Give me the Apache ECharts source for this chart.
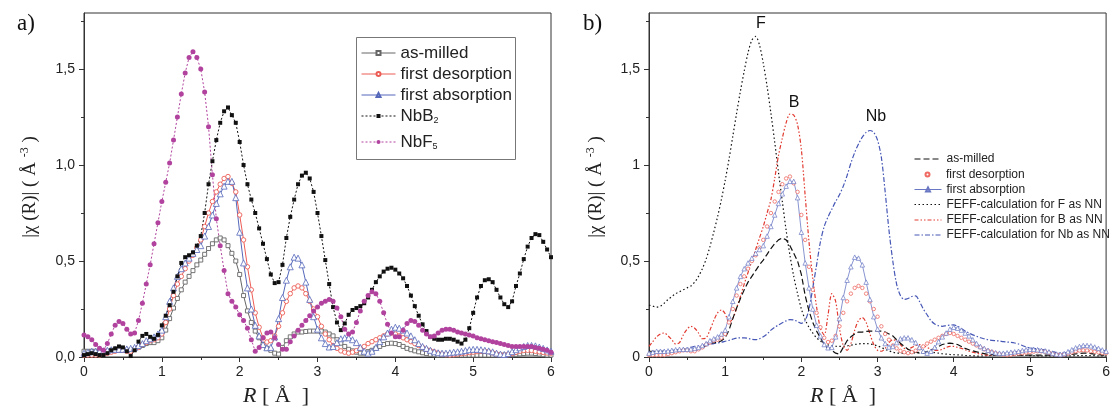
<!DOCTYPE html>
<html><head><meta charset="utf-8">
<script src="https://cdn.jsdelivr.net/npm/echarts@6/dist/echarts.min.js"></script>
<style>html,body{margin:0;padding:0;background:#fff}#c{width:1113px;height:410px}</style>
</head><body><div id="c"></div>
<script>
// sampling grid R (Å), step 0.05 from 0 to 6
const R = Array.from({length: 121}, (_, i) => +(i * 0.05).toFixed(2));
const xTickValues = [0, 1, 2, 3, 4, 5, 6];
const yMajorTicks = [0, 0.5, 1, 1.5];
const yMinorTicks = [0.25, 0.75, 1.25, 1.75];

const asMilled = [
0.03,0.03,0.03,0.03,0.03,0.03,0.03,0.035,0.035,0.04,
0.04,0.035,0.035,0.04,0.05,0.06,0.07,0.075,0.075,0.085,
0.10,0.14,0.20,0.255,0.305,0.35,0.39,0.42,0.45,0.48,
0.505,0.535,0.565,0.59,0.61,0.62,0.61,0.58,0.54,0.50,
0.43,0.32,0.24,0.18,0.135,0.10,0.065,0.045,0.035,0.02,
0.015,0.05,0.085,0.105,0.12,0.13,0.13,0.133,0.135,0.135,
0.135,0.135,0.13,0.12,0.11,0.09,0.072,0.055,0.04,0.032,
0.025,0.02,0.02,0.028,0.035,0.045,0.055,0.065,0.07,0.072,
0.07,0.065,0.055,0.045,0.038,0.032,0.027,0.022,0.018,0.014,
0.012,0.01,0.01,0.01,0.01,0.01,0.01,0.01,0.01,0.01,
0.01,0.01,0.01,0.01,0.01,0.01,0.01,0.01,0.01,0.01,
0.012,0.014,0.016,0.018,0.02,0.02,0.018,0.015,0.012,0.01,
0.01];
const firstDesorption = [
0.01,0.01,0.01,0.01,0.01,0.015,0.02,0.025,0.03,0.035,
0.035,0.03,0.03,0.04,0.05,0.065,0.075,0.085,0.09,0.10,
0.12,0.18,0.25,0.32,0.38,0.42,0.46,0.50,0.53,0.57,
0.61,0.68,0.75,0.81,0.86,0.90,0.93,0.94,0.905,0.86,
0.74,0.61,0.47,0.35,0.23,0.155,0.10,0.078,0.085,0.11,
0.16,0.23,0.29,0.33,0.36,0.37,0.36,0.33,0.29,0.25,
0.21,0.16,0.12,0.09,0.06,0.045,0.032,0.025,0.02,0.025,
0.033,0.045,0.055,0.07,0.08,0.09,0.10,0.11,0.12,0.125,
0.12,0.11,0.10,0.09,0.08,0.07,0.06,0.05,0.04,0.033,
0.027,0.02,0.015,0.012,0.01,0.012,0.015,0.018,0.02,0.023,
0.025,0.028,0.03,0.03,0.028,0.022,0.016,0.012,0.01,0.013,
0.018,0.024,0.03,0.034,0.035,0.034,0.03,0.027,0.024,0.021,
0.02];
const firstAbsorption = [
0.02,0.025,0.03,0.03,0.03,0.032,0.035,0.038,0.04,0.04,
0.04,0.042,0.045,0.05,0.06,0.07,0.085,0.095,0.105,0.12,
0.14,0.21,0.29,0.36,0.42,0.46,0.49,0.515,0.54,0.56,
0.58,0.63,0.68,0.74,0.80,0.85,0.89,0.915,0.915,0.83,
0.65,0.49,0.36,0.25,0.165,0.11,0.065,0.048,0.05,0.105,
0.20,0.31,0.40,0.47,0.52,0.515,0.48,0.39,0.30,0.21,
0.145,0.10,0.07,0.052,0.055,0.075,0.095,0.10,0.10,0.09,
0.075,0.05,0.03,0.02,0.03,0.05,0.08,0.105,0.125,0.145,
0.155,0.15,0.14,0.125,0.11,0.09,0.07,0.055,0.045,0.035,
0.027,0.022,0.02,0.02,0.022,0.025,0.027,0.03,0.034,0.038,
0.04,0.04,0.038,0.035,0.032,0.027,0.02,0.015,0.013,0.018,
0.028,0.038,0.048,0.055,0.06,0.06,0.058,0.052,0.045,0.037,
0.03];
const nbB2 = [
0.01,0.015,0.02,0.015,0.01,0.01,0.02,0.035,0.045,0.055,
0.05,0.03,0.005,0.035,0.08,0.11,0.12,0.105,0.095,0.115,
0.165,0.215,0.27,0.34,0.42,0.49,0.52,0.53,0.545,0.58,
0.63,0.75,0.90,1.02,1.13,1.22,1.28,1.30,1.26,1.22,
1.12,1.00,0.90,0.82,0.75,0.67,0.59,0.51,0.43,0.385,
0.39,0.48,0.62,0.73,0.82,0.90,0.945,0.96,0.93,0.86,
0.75,0.63,0.505,0.38,0.26,0.18,0.14,0.175,0.22,0.245,
0.255,0.265,0.28,0.31,0.35,0.39,0.42,0.445,0.46,0.465,
0.455,0.435,0.41,0.37,0.32,0.265,0.215,0.17,0.135,0.105,
0.095,0.09,0.09,0.095,0.095,0.09,0.08,0.07,0.09,0.15,
0.23,0.31,0.37,0.40,0.405,0.39,0.35,0.31,0.275,0.26,
0.29,0.37,0.435,0.51,0.575,0.62,0.64,0.635,0.60,0.56,
0.52];
const nbF5 = [
0.115,0.105,0.09,0.065,0.045,0.035,0.07,0.12,0.165,0.185,
0.175,0.145,0.12,0.125,0.19,0.28,0.38,0.48,0.59,0.70,
0.81,0.91,1.01,1.13,1.25,1.37,1.48,1.56,1.59,1.56,
1.50,1.38,1.20,0.95,0.72,0.58,0.45,0.33,0.29,0.26,
0.22,0.19,0.15,0.09,0.03,0.05,0.10,0.125,0.13,0.10,
0.065,0.04,0.04,0.08,0.11,0.14,0.165,0.19,0.215,0.24,
0.26,0.28,0.29,0.30,0.29,0.255,0.21,0.145,0.12,0.13,
0.18,0.24,0.29,0.32,0.34,0.33,0.29,0.23,0.17,0.125,
0.105,0.105,0.14,0.175,0.19,0.185,0.165,0.14,0.12,0.105,
0.11,0.125,0.14,0.145,0.145,0.14,0.13,0.125,0.12,0.115,
0.11,0.10,0.095,0.09,0.085,0.08,0.075,0.07,0.065,0.06,
0.055,0.055,0.055,0.055,0.055,0.055,0.05,0.045,0.04,0.035,
0.025];
const feffF = [
0.27,0.265,0.26,0.265,0.28,0.30,0.315,0.33,0.34,0.35,
0.36,0.37,0.39,0.42,0.46,0.51,0.575,0.65,0.73,0.82,
0.92,1.03,1.15,1.27,1.385,1.49,1.585,1.65,1.67,1.625,
1.53,1.41,1.27,1.12,0.96,0.81,0.66,0.53,0.42,0.33,
0.25,0.195,0.155,0.125,0.10,0.083,0.07,0.063,0.058,0.056,
0.055,0.056,0.058,0.062,0.065,0.068,0.07,0.07,0.068,0.064,
0.058,0.05,0.04,0.032,0.025,0.021,0.02,0.02,0.02,0.021,
0.022,0.024,0.025,0.025,0.025,0.023,0.02,0.017,0.015,0.013,
0.012,0.011,0.01,0.008,0.007,0.006,0.005,0.005,0.006,0.007,
0.008,0.009,0.01,0.01,0.01,0.01,0.009,0.009,0.008,0.008,
0.007,0.007,0.006,0.006,0.006,0.006,0.006,0.006,0.006,0.006,
0.006,0.006,0.007,0.007,0.007,0.007,0.007,0.007,0.006,0.006,
0.006];
const feffB = [
0.055,0.08,0.105,0.12,0.125,0.11,0.09,0.068,0.075,0.115,
0.145,0.16,0.15,0.125,0.095,0.10,0.14,0.19,0.23,0.245,
0.225,0.18,0.20,0.255,0.315,0.38,0.44,0.50,0.56,0.62,
0.68,0.75,0.82,0.93,1.05,1.14,1.22,1.265,1.26,1.21,
1.08,0.84,0.60,0.41,0.26,0.15,0.115,0.22,0.33,0.29,
0.15,0.06,0.035,0.07,0.14,0.19,0.205,0.18,0.12,0.065,
0.035,0.03,0.045,0.075,0.09,0.085,0.065,0.045,0.04,0.05,
0.06,0.065,0.06,0.05,0.04,0.035,0.035,0.04,0.05,0.055,
0.055,0.05,0.045,0.038,0.03,0.025,0.02,0.015,0.012,0.01,
0.01,0.012,0.015,0.018,0.02,0.022,0.025,0.028,0.03,0.032,
0.034,0.035,0.035,0.033,0.03,0.026,0.022,0.018,0.016,0.016,
0.018,0.022,0.026,0.03,0.032,0.032,0.03,0.027,0.024,0.022,
0.02];
const feffNb = [
0.02,0.022,0.025,0.028,0.03,0.032,0.033,0.035,0.037,0.04,
0.045,0.05,0.055,0.058,0.06,0.063,0.066,0.07,0.073,0.077,
0.082,0.087,0.093,0.098,0.10,0.10,0.097,0.092,0.09,0.095,
0.105,0.12,0.14,0.155,0.167,0.178,0.188,0.195,0.193,0.185,
0.175,0.19,0.25,0.36,0.48,0.60,0.68,0.73,0.77,0.81,
0.845,0.89,0.945,1.01,1.065,1.11,1.145,1.17,1.18,1.17,
1.13,1.04,0.86,0.66,0.50,0.38,0.32,0.30,0.305,0.315,
0.318,0.29,0.25,0.22,0.19,0.172,0.163,0.16,0.163,0.166,
0.167,0.16,0.148,0.135,0.125,0.115,0.108,0.10,0.095,0.09,
0.087,0.085,0.083,0.08,0.078,0.076,0.073,0.068,0.06,0.052,
0.047,0.045,0.043,0.04,0.037,0.033,0.028,0.023,0.02,0.02,
0.024,0.03,0.038,0.045,0.05,0.052,0.05,0.046,0.04,0.035,
0.03];

const pairs = ys => R.map((x, i) => [x, ys[i]]);
const FS = "'Liberation Sans', Arial, sans-serif";
const SERIF = "'Liberation Serif', 'Times New Roman', serif";
const YMAX = 1.792;
const AX = '#333';

const C_GRAY = '#666666', C_RED = '#ec5c55', C_BLUE = '#5567ba', C_BLK = '#111111', C_MAG = '#b1439f';
const C_FRED = '#e23a30', C_FBLUE = '#4657b6';

function xAxis(gi) {
  return {type: 'value', gridIndex: gi, min: 0, max: 6, interval: 1,
    axisLine: {show: true, onZero: false, lineStyle: {color: AX, width: 1}},
    axisTick: {show: true, length: 5, lineStyle: {color: AX}},
    minorTick: {show: true, splitNumber: 2, length: 3, lineStyle: {color: AX}},
    axisLabel: {fontFamily: FS, fontSize: 14, color: '#222', margin: 8,
      formatter: v => xTickValues.includes(v) ? String(v) : ''},
    splitLine: {show: false}};
}
function yMajor(gi, fmt) {
  return {type: 'value', gridIndex: gi, min: 0, max: YMAX,
    axisLine: {show: true, onZero: false, lineStyle: {color: AX, width: 1}},
    axisTick: {show: true, length: 5, customValues: yMajorTicks, lineStyle: {color: AX}},
    axisLabel: {customValues: yMajorTicks, fontFamily: FS, fontSize: 14, color: '#222', margin: 9, formatter: fmt},
    splitLine: {show: false}};
}
function yMinor(gi) {
  return {type: 'value', gridIndex: gi, min: 0, max: YMAX, position: 'left',
    axisLine: {show: false},
    axisTick: {show: true, length: 3, customValues: yMinorTicks, lineStyle: {color: AX}},
    axisLabel: {show: false}, splitLine: {show: false}};
}

const rich = {s: {fontSize: 9, fontFamily: FS, color: '#222', lineHeight: 9, padding: [9, 0, 0, 0]}};
function leg(name, left, cy, fontSize, lh, iw, ih, extra) {
  return Object.assign({
    show: true, data: [name], left: left, top: cy - lh / 2, orient: 'horizontal', padding: 0,
    itemWidth: iw, itemHeight: ih, itemGap: 0, selectedMode: false, z: 10,
    formatter: n => n.replace('NbB2', 'NbB{s|2}').replace('NbF5', 'NbF{s|5}'),
    textStyle: {fontFamily: FS, fontSize: fontSize, color: '#222', lineHeight: lh, rich: rich},
    lineStyle: {width: 1}
  }, extra || {});
}
const hideSym = {itemStyle: {opacity: 0}};

const option = {
  animation: false,
  backgroundColor: '#fff',
  grid: [
    {left: 84, top: 13, width: 467, height: 344, show: true, borderColor: AX, borderWidth: 1, backgroundColor: 'transparent'},
    {left: 649, top: 13, width: 466, height: 344, show: true, borderColor: AX, borderWidth: 1, backgroundColor: 'transparent'}
  ],
  xAxis: [xAxis(0), xAxis(1)],
  yAxis: [
    yMajor(0, v => v.toFixed(1).replace('.', ',')), yMinor(0),
    yMajor(1, v => String(v).replace('.', ',')), yMinor(1)
  ],
  legend: [
    leg('as-milled', 361, 53, 17, 18, 34, 5),
    leg('first desorption', 361, 74, 17, 18, 34, 5),
    leg('first absorption', 361, 95, 17, 18, 34, 5),
    leg('NbB2', 361, 116, 17, 18, 34, 5),
    leg('NbF5', 361, 142, 17, 18, 34, 5),
    leg('as-milled ', 914, 159, 12, 14, 27, 5, hideSym),
    leg('first desorption ', 914, 174.5, 12, 14, 27, 5, {lineStyle: {width: 0}}),
    leg('first absorption ', 914, 189.5, 12, 14, 27, 5),
    leg('FEFF-calculation for F as NN', 914, 204.5, 12, 14, 27, 5, hideSym),
    leg('FEFF-calculation for B as NN', 914, 220, 12, 14, 27, 5, hideSym),
    leg('FEFF-calculation for Nb as NN', 914, 235, 12, 14, 27, 5, hideSym)
  ],
  graphic: [
    {type: 'rect', z: 5, shape: {x: 356.5, y: 37.5, width: 159, height: 122},
      style: {fill: '#fff', stroke: '#777', lineWidth: 1}},
    {type: 'text', x: 17, y: 24, style: {text: 'a)', font: '23px ' + SERIF, fill: '#111', verticalAlign: 'middle', textVerticalAlign: 'middle'}},
    {type: 'text', x: 583, y: 24, style: {text: 'b)', font: '23px ' + SERIF, fill: '#111', verticalAlign: 'middle', textVerticalAlign: 'middle'}},
    {type: 'text', x: 30, y: 187, rotation: Math.PI / 2,
      style: {text: '|χ (R)| ( Å {sup|-3} )', font: '19px ' + SERIF, fill: '#222', align: 'center', textAlign: 'center', verticalAlign: 'middle', textVerticalAlign: 'middle',
        rich: {sup: {fontSize: 12, fontFamily: SERIF, fill: '#222', padding: [0, 0, 10, 0], lineHeight: 12}}}},
    {type: 'text', x: 596, y: 187, rotation: Math.PI / 2,
      style: {text: '|χ (R)| ( Å {sup|-3} )', font: '19px ' + SERIF, fill: '#222', align: 'center', textAlign: 'center', verticalAlign: 'middle', textVerticalAlign: 'middle',
        rich: {sup: {fontSize: 12, fontFamily: SERIF, fill: '#222', padding: [0, 0, 10, 0], lineHeight: 12}}}},
    {type: 'text', x: 243, y: 396, style: {text: '{i|R} [ Å  ]', font: '22px ' + SERIF, fill: '#222', verticalAlign: 'middle', textVerticalAlign: 'middle',
        rich: {i: {fontStyle: 'italic', fontSize: 22, fontFamily: SERIF, fill: '#222'}}}},
    {type: 'text', x: 810, y: 396, style: {text: '{i|R} [ Å  ]', font: '22px ' + SERIF, fill: '#222', verticalAlign: 'middle', textVerticalAlign: 'middle',
        rich: {i: {fontStyle: 'italic', fontSize: 22, fontFamily: SERIF, fill: '#222'}}}},
    {type: 'text', x: 761, y: 24, style: {text: 'F', font: '16px ' + FS, fill: '#111', align: 'center', textAlign: 'center', verticalAlign: 'middle', textVerticalAlign: 'middle'}},
    {type: 'text', x: 794, y: 103, style: {text: 'B', font: '16px ' + FS, fill: '#111', align: 'center', textAlign: 'center', verticalAlign: 'middle', textVerticalAlign: 'middle'}},
    {type: 'text', x: 876, y: 117, style: {text: 'Nb', font: '16px ' + FS, fill: '#111', align: 'center', textAlign: 'center', verticalAlign: 'middle', textVerticalAlign: 'middle'}}
  ],
  series: [
    {name: 'as-milled', type: 'line', xAxisIndex: 0, yAxisIndex: 0, data: pairs(asMilled),
      symbol: 'rect', symbolSize: 4, itemStyle: {color: '#fff', borderColor: C_GRAY, borderWidth: 0.9},
      lineStyle: {color: C_GRAY, width: 1}, z: 2},
    {name: 'first desorption', type: 'line', xAxisIndex: 0, yAxisIndex: 0, data: pairs(firstDesorption),
      symbol: 'circle', symbolSize: 4.5, itemStyle: {color: '#fff', borderColor: C_RED, borderWidth: 0.9},
      lineStyle: {color: C_RED, width: 1}, z: 2},
    {name: 'first absorption', type: 'line', xAxisIndex: 0, yAxisIndex: 0, data: pairs(firstAbsorption),
      symbol: 'triangle', symbolSize: 6, itemStyle: {color: '#fff', borderColor: C_BLUE, borderWidth: 0.8},
      lineStyle: {color: C_BLUE, width: 1}, z: 2},
    {name: 'NbB2', type: 'line', xAxisIndex: 0, yAxisIndex: 0, data: pairs(nbB2),
      symbol: 'rect', symbolSize: 4, itemStyle: {color: C_BLK},
      lineStyle: {color: C_BLK, width: 1, type: [2, 2]}, z: 2},
    {name: 'NbF5', type: 'line', xAxisIndex: 0, yAxisIndex: 0, data: pairs(nbF5),
      symbol: 'circle', symbolSize: 5, itemStyle: {color: C_MAG},
      lineStyle: {color: C_MAG, width: 1, type: [2, 2]}, z: 2},

    {name: 'FEFF-calculation for F as NN', type: 'line', xAxisIndex: 1, yAxisIndex: 2, data: pairs(feffF),
      symbol: 'none', smooth: 0.3, itemStyle: {color: C_BLK}, lineStyle: {color: C_BLK, width: 1.2, type: [1.5, 2.5]}, z: 2},
    {name: 'FEFF-calculation for B as NN', type: 'line', xAxisIndex: 1, yAxisIndex: 2, data: pairs(feffB),
      symbol: 'none', smooth: 0.3, itemStyle: {color: C_FRED}, lineStyle: {color: C_FRED, width: 1.2, type: [4, 2, 1.5, 2, 1.5, 2]}, z: 2},
    {name: 'FEFF-calculation for Nb as NN', type: 'line', xAxisIndex: 1, yAxisIndex: 2, data: pairs(feffNb),
      symbol: 'none', smooth: 0.3, itemStyle: {color: C_FBLUE}, lineStyle: {color: C_FBLUE, width: 1.2, type: [5, 2, 1.5, 2]}, z: 2},
    {name: 'as-milled ', type: 'line', xAxisIndex: 1, yAxisIndex: 2, data: pairs(asMilled),
      symbol: 'none', itemStyle: {color: C_BLK}, lineStyle: {color: C_BLK, width: 1.2, type: [6, 3]}, z: 3},
    {name: 'first desorption ', type: 'line', xAxisIndex: 1, yAxisIndex: 2, data: pairs(firstDesorption),
      symbol: 'circle', symbolSize: 3.5, itemStyle: {color: '#fff', borderColor: '#ee6a62', borderWidth: 0.8},
      lineStyle: {color: C_FRED, width: 0}, z: 3},
    {name: 'first absorption ', type: 'line', xAxisIndex: 1, yAxisIndex: 2, data: pairs(firstAbsorption),
      symbol: 'triangle', symbolSize: 4.5, itemStyle: {color: '#fff', borderColor: '#6a78c4', borderWidth: 0.7},
      lineStyle: {color: '#6a78c4', width: 0.8}, z: 3}
  ]
};
const chart = echarts.init(document.getElementById('c'), null, {renderer: 'canvas'});
chart.setOption(option);
</script>
</body></html>
